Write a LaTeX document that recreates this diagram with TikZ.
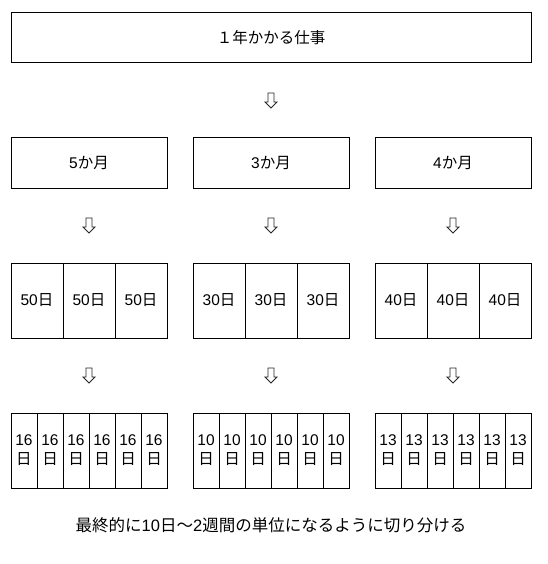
\documentclass[tikz,border=0pt]{standalone}
\usepackage{fontspec}
\setmainfont{Liberation Sans}
\newfontfamily\jp{Noto Sans CJK JP}
\usetikzlibrary{calc}
\tikzset{
  box/.style={draw=black, line width=1pt, inner sep=0pt, font=\fontsize{15.5}{18}\selectfont, align=center},
  dnarrow/.pic={\draw[line width=0.8pt, draw=black!85, fill=white, line join=miter]
      (-3,-7.5) -- (3,-7.5) -- (3,1.5) -- (6,1.5) -- (0,7.5) -- (-6,1.5) -- (-3,1.5) -- cycle;},
}
\begin{document}
\begin{tikzpicture}[x=1pt, y=-1pt]
\useasboundingbox (0,0) rectangle (547,564);
% top
\node[box, minimum width=520pt, minimum height=50pt] (top) at (271,38) {{\jp １年かかる仕事}};
% row 2
\foreach \n/\cx/\t in {a/89/5, b/271/3, c/453/4} {
  \node[box, minimum width=156pt, minimum height=50pt] (m\n) at (\cx,163) {\t{\jp か月}};
}
% row 3
\foreach \n/\cx/\t in {a/89/50, b/271/30, c/453/40} {
  \foreach \i in {0,1,2} {
    \node[box, minimum width=52pt, minimum height=75pt] (d\n\i) at ({\cx-52+52*\i},300.5) {\t{\jp 日}};
  }
}
% row 4
\foreach \n/\cx/\t in {a/89/16, b/271/10, c/453/13} {
  \foreach \i in {0,...,5} {
    \node[box, minimum width=26pt, minimum height=75pt] (e\n\i) at ({\cx-65+26*\i},450.5) {\t\\[1pt]{\jp 日}};
  }
}
% arrows
\path ($(top.south)!0.5!(mb.north)$) pic {dnarrow};
\foreach \n in {a,b,c} {
  \path ($(m\n.south)!0.5!(d\n1.north)$) pic {dnarrow};
  \path ($(d\n1.south)!0.5!(d\n1.south|-e\n2.north)$) pic {dnarrow};
}
% caption
\node[font=\fontsize{16.5}{19}\selectfont] (cap) at (271,525) {{\jp 最終的に}10{\jp 日～}2{\jp 週間の単位になるように切り分ける}};
\end{tikzpicture}
\end{document}
